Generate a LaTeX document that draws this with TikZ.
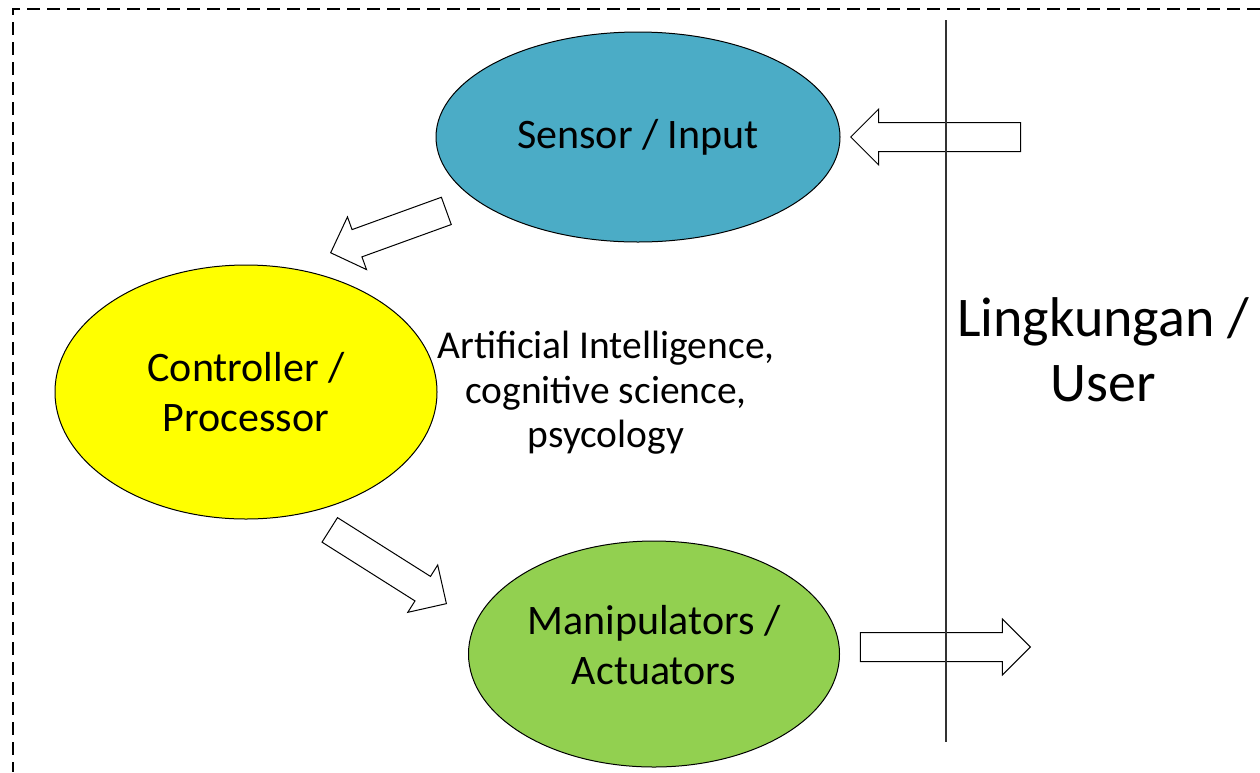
\documentclass[tikz,border=0pt]{standalone}
\usepackage{fontspec}
\setmainfont{Carlito}
\usetikzlibrary{shapes.geometric, shapes.arrows}
\definecolor{SensorBlue}{RGB}{75, 172, 198}
\definecolor{ActGreen}{RGB}{146, 208, 80}
\definecolor{CtrlYellow}{RGB}{255, 255, 0}

\begin{document}
\begin{tikzpicture}[
    x=1pt, y=-1pt,
    every node/.style={align=center},
    unit/.style={ellipse, draw=black, line width=1pt, inner sep=0pt,
                font=\fontsize{42}{50}\selectfont},
    blockarrow/.style={single arrow, draw=black, fill=white, line width=1pt,
                inner xsep=0pt, inner ysep=14pt, minimum width=0pt,
                single arrow head extend=13.5pt, single arrow tip angle=90}
]
\useasboundingbox (0,0) rectangle (1260,772);
% frame
\draw[dashed, dash pattern=on 13pt off 7pt, line width=1.2pt] (1260,9) -- (13,9) -- (13,772);

\node[unit, fill=SensorBlue, minimum width=404pt, minimum height=210pt] (sensor) at (638,137) {Sensor / Input};
\node[unit, fill=CtrlYellow, minimum width=382pt, minimum height=254pt] (ctrl) at (246,392) {Controller /\\Processor};
\node[unit, fill=ActGreen, minimum width=371pt, minimum height=226pt] (act) at (654,654) {};
\node[font=\fontsize{42}{50}\selectfont] (acttext) at (654,645) {Manipulators /\\Actuators};

\node[font=\fontsize{39.5}{44.5}\selectfont] (ai) at (606,393) {Artificial Intelligence,\\cognitive science,\\psycology};
\node[font=\fontsize{56}{65}\selectfont] (env) at (1103,350) {Lingkungan /\\User};

\node[blockarrow, minimum height=170pt, rotate=180, anchor=tip] (in) at (850,137) {};
\node[blockarrow, minimum height=123pt, rotate=199.9, anchor=tip] (s2c) at (330,253) {};
\node[blockarrow, minimum height=138pt, rotate=-32.3, anchor=tip] (c2a) at (447,604) {};
\node[blockarrow, minimum height=170pt, anchor=tip] (out) at (1031,647) {};

\draw[black!80, line width=1.2pt] (946,20) -- (946,742);
\end{tikzpicture}
\end{document}
